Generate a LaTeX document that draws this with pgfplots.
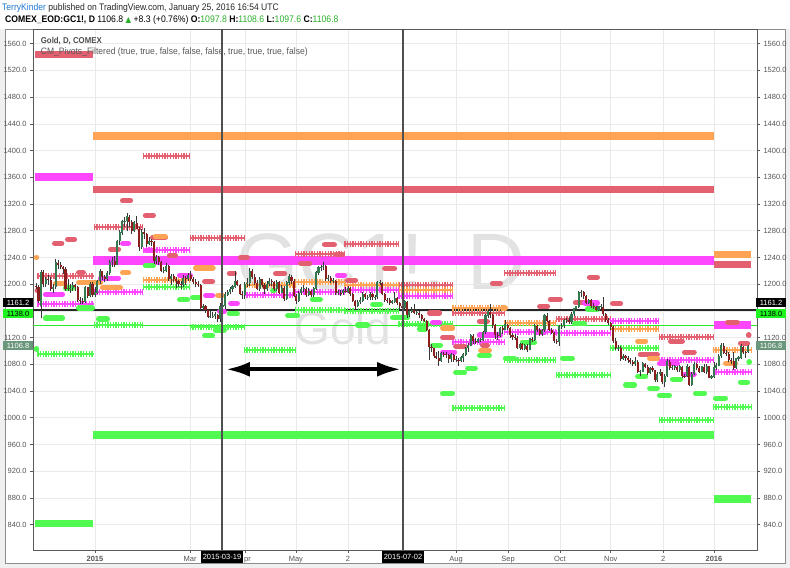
\documentclass[border=0pt]{standalone}
\usepackage{pgfplots}
\pgfplotsset{compat=1.18}
\usepackage{pgfplotstable}
\usepackage{graphicx}
\usepackage{fontspec}
\setmainfont{Liberation Sans}
\newfontfamily\dejavu{DejaVu Sans}
\usetikzlibrary{arrows.meta}

\definecolor{pvred}{RGB}{226,96,112}
\definecolor{pvorange}{RGB}{255,164,84}
\definecolor{pvmag}{RGB}{255,70,255}
\definecolor{pvgreen}{RGB}{80,250,80}
\definecolor{candleup}{RGB}{52,120,80}
\definecolor{candledn}{RGB}{140,30,30}
\definecolor{wick}{RGB}{55,55,55}
\definecolor{gridc}{RGB}{234,234,234}
\definecolor{axisc}{RGB}{90,90,90}
\definecolor{labelc}{RGB}{85,85,85}
\definecolor{textc}{RGB}{40,40,40}
\definecolor{tvblue}{RGB}{30,120,210}
\definecolor{tvgreen}{RGB}{40,175,40}
\definecolor{lastc}{RGB}{106,150,124}
\definecolor{linegreen}{RGB}{40,235,40}
\definecolor{boxgreen}{RGB}{30,245,30}
\definecolor{wmark}{RGB}{226,226,226}
\definecolor{vlinec}{RGB}{80,80,80}

% daily bars: trading-day index (0 = 2 Jan 2015), open, high, low, close
\pgfplotstableread{
x o h l c
-24 1197 1202 1192 1196
-23 1196 1198 1172 1175
-22 1168 1221 1150 1218
-21 1218 1221 1195 1200
-20 1200 1210 1196 1207
-19 1207 1213 1199 1206
-18 1206 1210 1190 1192
-17 1192 1200 1187 1195
-16 1195 1238 1192 1232
-15 1232 1236 1222 1229
-14 1229 1233 1222 1225
-13 1225 1227 1215 1222
-12 1222 1225 1190 1193
-11 1193 1208 1189 1194
-10 1194 1200 1187 1194
-9 1194 1203 1190 1198
-8 1198 1200 1190 1195
-7 1195 1197 1174 1177
-6 1177 1180 1170 1175
-5 1175 1179 1171 1174
-4 1174 1197 1172 1195
-3 1195 1196 1179 1182
-2 1182 1203 1180 1200
-1 1200 1203 1181 1184
0 1184 1195 1181 1187
1 1187 1206 1185 1204
2 1204 1222 1200 1219
3 1219 1220 1206 1211
4 1211 1213 1203 1208
5 1208 1219 1205 1216
6 1216 1236 1214 1233
7 1233 1241 1226 1234
8 1234 1242 1225 1229
9 1229 1266 1228 1264
10 1264 1281 1258 1277
11 1277 1296 1274 1294
12 1294 1300 1285 1294
13 1294 1307 1280 1301
14 1301 1304 1286 1293
15 1293 1296 1275 1280
16 1280 1294 1278 1292
17 1292 1302 1282 1283
18 1283 1286 1250 1255
19 1255 1282 1253 1278
20 1278 1284 1268 1275
21 1275 1277 1255 1260
22 1260 1270 1258 1264
23 1264 1268 1257 1263
24 1263 1264 1230 1234
25 1234 1243 1230 1240
26 1240 1242 1228 1233
27 1233 1235 1218 1220
28 1220 1226 1217 1220
29 1220 1232 1218 1227
30 1227 1229 1205 1208
31 1208 1215 1199 1212
32 1212 1215 1203 1207
33 1207 1210 1194 1204
34 1204 1206 1196 1200
35 1200 1205 1192 1198
36 1198 1214 1196 1209
37 1209 1212 1198 1207
38 1207 1217 1204 1213
39 1213 1219 1205 1208
40 1208 1210 1200 1203
41 1203 1207 1195 1200
42 1200 1204 1196 1198
43 1198 1200 1162 1164
44 1164 1170 1160 1167
45 1167 1169 1157 1161
46 1161 1162 1149 1151
47 1151 1160 1149 1152
48 1152 1158 1150 1152
49 1152 1158 1148 1154
50 1154 1156 1143 1148
51 1148 1172 1144 1166
52 1166 1176 1165 1168
53 1168 1188 1163 1184
54 1184 1191 1182 1188
55 1188 1195 1185 1192
56 1192 1198 1188 1196
57 1196 1220 1194 1204
58 1204 1206 1197 1199
59 1199 1200 1183 1185
60 1185 1190 1178 1183
61 1183 1203 1178 1200
62 1200 1209 1196 1201
63 1201 1224 1197 1219
64 1219 1223 1208 1210
65 1210 1215 1199 1202
66 1202 1206 1191 1193
67 1193 1211 1190 1207
68 1207 1208 1195 1198
69 1198 1201 1185 1192
70 1192 1205 1190 1200
71 1200 1209 1197 1204
72 1204 1207 1197 1203
73 1203 1205 1190 1193
74 1193 1206 1189 1203
75 1203 1205 1185 1187
76 1187 1198 1186 1194
77 1194 1197 1175 1178
78 1178 1205 1176 1202
79 1202 1215 1199 1211
80 1211 1213 1200 1204
81 1204 1207 1180 1182
82 1182 1185 1170 1175
83 1175 1190 1174 1186
84 1186 1196 1183 1192
85 1192 1198 1188 1193
86 1193 1195 1181 1184
87 1184 1194 1182 1189
88 1189 1191 1180 1183
89 1183 1196 1181 1193
90 1193 1220 1191 1217
91 1217 1227 1214 1225
92 1225 1229 1220 1225
93 1225 1233 1221 1227
94 1227 1229 1205 1207
95 1207 1213 1204 1209
96 1209 1212 1201 1205
97 1205 1209 1201 1205
98 1205 1206 1184 1186
99 1186 1191 1183 1187
100 1187 1191 1182 1186
101 1186 1193 1184 1190
102 1190 1196 1186 1188
103 1188 1197 1186 1194
104 1194 1196 1182 1185
105 1185 1187 1173 1175
106 1175 1177 1162 1168
107 1168 1176 1166 1173
108 1173 1180 1170 1175
109 1175 1188 1173 1185
110 1185 1187 1178 1180
111 1180 1183 1177 1180
112 1180 1188 1176 1185
113 1185 1187 1177 1180
114 1180 1184 1176 1180
115 1180 1205 1178 1202
116 1202 1206 1198 1202
117 1202 1203 1183 1185
118 1185 1187 1174 1177
119 1177 1180 1172 1176
120 1176 1179 1169 1172
121 1172 1176 1170 1174
122 1174 1188 1172 1179
123 1179 1181 1169 1172
124 1172 1174 1163 1168
125 1168 1170 1162 1164
126 1164 1176 1160 1174
127 1174 1175 1150 1154
128 1154 1163 1151 1159
129 1159 1166 1157 1161
130 1161 1170 1155 1157
131 1157 1163 1154 1157
132 1157 1160 1150 1154
133 1154 1156 1145 1148
134 1148 1149 1143 1145
135 1145 1147 1130 1132
136 1132 1133 1086 1106
137 1106 1111 1098 1104
138 1104 1105 1089 1092
139 1092 1098 1088 1090
140 1090 1100 1078 1085
141 1085 1099 1084 1096
142 1096 1099 1091 1095
143 1095 1098 1090 1094
144 1094 1096 1082 1088
145 1088 1097 1084 1094
146 1094 1096 1083 1086
147 1086 1092 1084 1087
148 1087 1090 1078 1085
149 1085 1092 1083 1090
150 1090 1097 1084 1094
151 1094 1106 1093 1104
152 1104 1112 1099 1108
153 1108 1126 1107 1123
154 1123 1126 1111 1115
155 1115 1119 1110 1113
156 1113 1120 1112 1117
157 1117 1119 1114 1117
158 1117 1130 1115 1128
159 1128 1155 1126 1153
160 1153 1163 1150 1159
161 1159 1170 1150 1154
162 1154 1155 1134 1139
163 1139 1140 1118 1124
164 1124 1128 1116 1123
165 1123 1136 1121 1134
166 1134 1137 1126 1132
167 1132 1146 1131 1139
168 1139 1141 1132 1134
169 1134 1136 1120 1124
170 1124 1127 1116 1121
171 1121 1125 1117 1120
172 1120 1122 1103 1105
173 1105 1112 1101 1110
174 1110 1112 1102 1103
175 1103 1110 1101 1108
176 1108 1110 1099 1102
177 1102 1120 1101 1118
178 1118 1121 1114 1117
179 1117 1141 1115 1137
180 1137 1139 1129 1132
181 1132 1134 1122 1125
182 1125 1133 1122 1131
183 1131 1156 1129 1153
184 1153 1157 1143 1145
185 1145 1146 1130 1132
186 1132 1134 1125 1127
187 1127 1129 1112 1115
188 1115 1118 1111 1113
189 1113 1139 1108 1137
190 1137 1142 1133 1137
191 1137 1148 1134 1146
192 1146 1149 1142 1146
193 1146 1151 1140 1143
194 1143 1158 1141 1155
195 1155 1165 1152 1163
196 1163 1168 1160 1166
197 1166 1190 1165 1187
198 1187 1191 1180 1188
199 1188 1190 1178 1182
200 1182 1184 1170 1172
201 1172 1178 1170 1176
202 1176 1178 1165 1167
203 1167 1172 1163 1166
204 1166 1168 1160 1162
205 1162 1168 1160 1166
206 1166 1170 1163 1166
207 1166 1181 1153 1155
208 1155 1157 1143 1147
209 1147 1150 1139 1142
210 1142 1143 1132 1136
211 1136 1137 1112 1115
212 1115 1119 1102 1104
213 1104 1109 1100 1104
214 1104 1107 1085 1088
215 1088 1096 1087 1092
216 1092 1094 1085 1090
217 1090 1093 1082 1086
218 1086 1090 1080 1084
219 1084 1087 1077 1081
220 1081 1091 1078 1084
221 1084 1087 1067 1068
222 1068 1072 1062 1069
223 1069 1083 1068 1081
224 1081 1082 1074 1076
225 1076 1079 1064 1067
226 1067 1076 1065 1074
227 1074 1078 1069 1071
228 1071 1072 1053 1056
229 1056 1068 1054 1065
230 1065 1073 1063 1068
231 1068 1069 1050 1053
232 1053 1065 1046 1062
233 1062 1088 1061 1084
234 1084 1086 1071 1075
235 1075 1079 1071 1075
236 1075 1079 1071 1076
237 1076 1078 1069 1071
238 1071 1079 1069 1076
239 1076 1077 1060 1063
240 1063 1066 1059 1062
241 1062 1080 1061 1076
242 1076 1078 1047 1049
243 1049 1068 1048 1065
244 1065 1083 1064 1080
245 1080 1082 1071 1075
246 1075 1078 1067 1069
247 1069 1077 1068 1076
248 1076 1080 1067 1068
249 1068 1080 1066 1077
250 1077 1078 1059 1060
251 1060 1064 1058 1061
252 1061 1083 1060 1075
253 1075 1082 1072 1078
254 1078 1095 1077 1092
255 1092 1112 1090 1108
256 1108 1112 1096 1097
257 1097 1102 1092 1096
258 1096 1098 1083 1086
259 1086 1090 1080 1085
260 1085 1098 1072 1074
261 1074 1090 1073 1088
262 1088 1093 1085 1090
263 1090 1111 1088 1106
264 1106 1108 1095 1098
265 1098 1100 1090 1097
266 1097.8 1108.6 1097.6 1106.8
}\gold

% yearly pivot levels: from bar a to bar b at price p
\pgfplotstableread{
a b p
-24.5 -0.8 1543.5
-0.8 252 1342
252 267.2 1229.5
}\yrRed
\pgfplotstableread{
a b p
-0.8 252 1422
252 267.2 1244.5
}\yrOrange
\pgfplotstableread{
a b p
-24.5 -0.8 1360.5
252 267.2 1138.5
}\yrMag
\pgfplotstableread{
a b p
-0.8 252 1236
}\yrMagWide
\pgfplotstableread{
a b p
-24.5 -0.8 841.5
-0.8 252 974
252 267.2 878
}\yrGreen

% monthly pivot levels
\pgfplotstableread{
a b p
-23.5 -0.5 1211.5
-0.5 19.5 1285
19.5 38.5 1392.5
38.5 60.5 1268.5
81.5 101.5 1244.5
101.5 123.5 1259.5
123.5 145.5 1198
145.5 166.5 1157.5
166.5 187.5 1216
187.5 209.5 1148.5
229.5 251.5 1121
}\moRed
\pgfplotstableread{
a b p
19.5 38.5 1205.5
60.5 81.5 1198.5
81.5 101.5 1202.5
101.5 123.5 1198
123.5 145.5 1190.5
145.5 166.5 1165
166.5 187.5 1142
209.5 229.5 1133.5
251.5 267.5 1101
}\moOrange
\pgfplotstableread{
a b p
-23.5 -0.5 1171
-0.5 19.5 1187.5
19.5 38.5 1250.5
60.5 81.5 1183.5
81.5 101.5 1187.5
101.5 123.5 1190.5
123.5 145.5 1181.5
145.5 166.5 1113
166.5 187.5 1128
187.5 209.5 1127
209.5 229.5 1145.5
229.5 251.5 1086
251.5 267.5 1068
}\moMag
\pgfplotstableread{
a b p
-23.5 -0.5 1096
-0.5 19.5 1138.5
19.5 38.5 1195
38.5 60.5 1135.5
60.5 81.5 1101
81.5 101.5 1162
101.5 123.5 1160.5
123.5 145.5 1141
145.5 166.5 1014
166.5 187.5 1086
187.5 209.5 1063.5
209.5 229.5 1104
229.5 251.5 996.5
251.5 267.5 1016.5
}\moGreen

% weekly pivot levels
\pgfplotstableread{
a b p
-16.4 -13.6 1261
-11.1 -8.4 1267
-6.6 -4.8 1217.5
-23.5 -23.3 1190.5
11.3 14.4 1325
20.6 23.7 1302.5
6.4 9.5 1252
23.5 28.6 1270
30.4 32.7 1243
59.3 62 1240
54.8 56.7 1216
44.7 47.8 1204
93.5 97.4 1259
98.1 100.7 1244.5
83.8 87.3 1231
118 121.9 1223.5
73.6 77.1 1216
102.9 106 1205.5
136.3 140.2 1156.5
161.9 165 1201
156.6 159.7 1144
141.6 145.5 1120
146.9 150.4 1107
157.9 159.7 1108.5
201.4 204.5 1210
185.5 189.4 1177
181.1 184.2 1166.5
195.7 199.2 1172.5
210.8 213.9 1171
234.4 239.1 1114.5
240.1 243.9 1098
222.1 228.9 1095
262.9 265.6 1111.5
257.6 261.5 1142.5
266.1 266.2 1123.5
}\wkRed
\pgfplotstableread{
a b p
-23.9 -23.8 1240
11.3 13.6 1217.5
-16 -12.9 1201
-6.6 2.2 1202.5
3.1 10.3 1195
50 51.8 1183
141.6 145.5 1134
157.1 160.5 1101
221 224.1 1114.5
256.8 260.7 1081.5
24.6 28.6 1271
41 48 1224
225.9 228.9 1089
166 167 1164
}\wkOrange
\pgfplotstableread{
a b p
11.3 13.6 1261
20.6 23.7 1250.5
2.3 9.5 1208.5
-20.1 -13.3 1184.5
34.5 38.8 1213
45.1 47.8 1183
55.3 57.9 1171
50.8 52.6 1159
98.8 101.5 1213
137.5 140.2 1142.5
141.6 146.3 1098
156.6 165 1123.5
199.4 204.5 1172
179.4 182.9 1128
240.1 243.9 1065
229.9 237.1 1081.5
}\wkMag
\pgfplotstableread{
a b p
-20.1 -13.3 1149
-11.9 -9.2 1194
-6.6 -1.1 1164
1.5 5 1147.5
20.6 23.7 1228
34.5 37.6 1177
39.8 42.5 1180
54.8 57.9 1156
49.1 52.6 1131
44.7 47.8 1123
72.4 73 1190.5
88.6 91.7 1177
113.1 116.2 1169.5
78.5 82.4 1153
107 110.9 1138.5
121.2 127.2 1150
132.2 134.5 1132.5
137.5 140.6 1108.5
156.6 160.5 1093.5
167.2 170.7 1089
146.9 150.4 1068
151.8 154.8 1074
141.6 145.5 1036.5
221 224.1 1062
225.9 228.9 1044
229.9 233.8 1033.5
244.6 248.1 1036.5
252.7 256.6 1029
262.9 265.6 1053
235.2 238.3 1057.5
266.3 266.4 1083.5
-23.9 -23.8 1103
174.1 178.9 1113
190.4 194.3 1089
200.6 204.5 1162.5
195.3 199.2 1141
216.1 219.6 1049
}\wkGreen

\pgfplotsset{
  nomark/.style={only marks, mark=*, mark size=0pt, mark options={draw=none, fill=none}, forget plot},
  seg/.style={nomark,
    error bars/x dir=plus, error bars/x explicit, error bars/error mark=none,
    error bars/error bar style={#1}},
  bar/.style={nomark,
    error bars/y dir=plus, error bars/y explicit, error bars/error mark=none,
    error bars/error bar style={#1}},
  yr/.style={seg={line width=7.5bp, #1}},
  mocross/.style={seg={line width=6bp, dash pattern=on 1.3bp off 1.4bp, #1}},
  moline/.style={seg={line width=2bp, #1}},
  wk/.style={seg={line width=5.5bp, line cap=round, #1}},
}

\begin{document}
\begin{tikzpicture}[x=1bp, y=1bp]
% page and chart frame
\fill[white] (0,0) rectangle (790,568);
\fill[black!6] (0,0) rectangle (790,5);
\fill[black!6] (0,0) rectangle (5,539);
\fill[black!6] (785,0) rectangle (790,539);
\draw[black!45, line width=0.8bp] (5,5) rectangle (785,539);

% symbol watermark
\node[anchor=base, inner sep=0, text=wmark, font=\fontsize{80bp}{80bp}\selectfont] at (381,278) {GC1!, D};
\node[anchor=base, inner sep=0, text=wmark, font=\fontsize{46bp}{46bp}\selectfont] at (343,223) {Gold};

\begin{axis}[
  at={(33bp,18bp)}, anchor=south west,
  scale only axis, width=724bp, height=521bp,
  xmin=-25.24, xmax=269.54, ymin=802, ymax=1582,
  axis line style={axisc, line width=0.8bp},
  xtick={0,38.7,61.1,81.8,103,125.4,147,168.2,189.3,210,231.3,252},
  xticklabels={\textbf{2015},Mar,{\phantom{A}pr},May,2,{},Aug,Sep,Oct,Nov,2,\textbf{2016}},
  ytick={840,880,...,1560},
  yticklabels={840.0,880.0,920.0,960.0,1000.0,1040.0,1080.0,1120.0,{},1200.0,1240.0,1280.0,1320.0,1360.0,1400.0,1440.0,1480.0,1520.0,1560.0},
  tick label style={font=\fontsize{7.5bp}{8bp}\selectfont, text=labelc},
  xtick pos=left, ytick pos=left,
  tick align=outside, major tick length=3bp,
  tick style={axisc, line width=0.6bp},
  grid=major, major grid style={gridc, line width=0.6bp},
]
% last price and reference levels
\addplot[forget plot, line width=1.6bp, linegreen] coordinates {(-26,1138) (270,1138)};
\addplot[forget plot, line width=1.4bp, black!85] coordinates {(-26,1161.2) (270,1161.2)};

% yearly levels
\addplot[yr=pvred] table[x=a, y=p, x error expr=\thisrow{b}-\thisrow{a}] {\yrRed};
\addplot[yr=pvorange] table[x=a, y=p, x error expr=\thisrow{b}-\thisrow{a}] {\yrOrange};
\addplot[yr=pvmag] table[x=a, y=p, x error expr=\thisrow{b}-\thisrow{a}] {\yrMag};
\addplot[seg={line width=9bp, pvmag}] table[x=a, y=p, x error expr=\thisrow{b}-\thisrow{a}] {\yrMagWide};
\addplot[yr=pvgreen] table[x=a, y=p, x error expr=\thisrow{b}-\thisrow{a}] {\yrGreen};

% monthly levels (cross-hatched)
\addplot[mocross=pvred] table[x=a, y=p, x error expr=\thisrow{b}-\thisrow{a}] {\moRed};
\addplot[moline=pvred] table[x=a, y=p, x error expr=\thisrow{b}-\thisrow{a}] {\moRed};
\addplot[mocross=pvorange] table[x=a, y=p, x error expr=\thisrow{b}-\thisrow{a}] {\moOrange};
\addplot[moline=pvorange] table[x=a, y=p, x error expr=\thisrow{b}-\thisrow{a}] {\moOrange};
\addplot[mocross=pvmag] table[x=a, y=p, x error expr=\thisrow{b}-\thisrow{a}] {\moMag};
\addplot[moline=pvmag] table[x=a, y=p, x error expr=\thisrow{b}-\thisrow{a}] {\moMag};
\addplot[mocross=pvgreen] table[x=a, y=p, x error expr=\thisrow{b}-\thisrow{a}] {\moGreen};
\addplot[moline=pvgreen] table[x=a, y=p, x error expr=\thisrow{b}-\thisrow{a}] {\moGreen};

% weekly levels (rounded)
\addplot[wk=pvred] table[x=a, y=p, x error expr=\thisrow{b}-\thisrow{a}] {\wkRed};
\addplot[wk=pvorange] table[x=a, y=p, x error expr=\thisrow{b}-\thisrow{a}] {\wkOrange};
\addplot[wk=pvmag] table[x=a, y=p, x error expr=\thisrow{b}-\thisrow{a}] {\wkMag};
\addplot[wk=pvgreen] table[x=a, y=p, x error expr=\thisrow{b}-\thisrow{a}] {\wkGreen};

% candles: wicks, then bodies
\addplot[bar={line width=0.8bp, wick}] table[x=x, y=l, y error expr=\thisrow{h}-\thisrow{l}] {\gold};
\addplot[bar={line width=2.1bp, candleup}] table[x=x,
   y expr={\thisrow{c}<\thisrow{o} ? -500 : \thisrow{o}},
   y error expr={abs(\thisrow{c}-\thisrow{o})+0.8}] {\gold};
\addplot[bar={line width=2.1bp, candledn}] table[x=x,
   y expr={\thisrow{c}<\thisrow{o} ? \thisrow{c} : -500},
   y error expr={abs(\thisrow{c}-\thisrow{o})}] {\gold};

% marker lines and range arrow
\draw[vlinec, line width=1.2bp] (axis cs:51.7,802) -- (axis cs:51.7,1582);
\draw[vlinec, line width=1.2bp] (axis cs:125.4,802) -- (axis cs:125.4,1582);
\draw[black, line width=4bp, {Latex[length=24bp,width=15bp]}-{Latex[length=24bp,width=15bp]}]
  (axis cs:53.3,1072.5) -- (axis cs:124.6,1072.5);
\end{axis}

% right-hand price scale
\begin{axis}[
  at={(33bp,18bp)}, anchor=south west,
  scale only axis, width=724bp, height=521bp,
  xmin=-25.24, xmax=269.54, ymin=802, ymax=1582,
  axis x line=none, axis y line*=right,
  axis line style={axisc, line width=0.8bp},
  ytick={840,880,...,1560}, yticklabel pos=right,
  yticklabels={840.0,880.0,920.0,960.0,1000.0,1040.0,1080.0,1120.0,{},1200.0,1240.0,1280.0,1320.0,1360.0,1400.0,1440.0,1480.0,1520.0,1560.0},
  tick label style={font=\fontsize{7.5bp}{8bp}\selectfont, text=labelc},
  tick align=outside, major tick length=3bp,
  tick style={axisc, line width=0.6bp},
]
\addplot[draw=none, forget plot] coordinates {(0,1000)};
\end{axis}

% header
\node[anchor=base west, inner sep=0, font=\fontsize{9.5bp}{11bp}\selectfont] at (2,557.3)
  {\scalebox{0.9}[1]{\textcolor{tvblue}{TerryKinder}\ \textcolor{textc}{published on TradingView.com, January 25, 2016 16:54 UTC}}};
\node[anchor=base west, inner sep=0, font=\fontsize{9.5bp}{11bp}\selectfont, text=black] at (5,545.3)
  {\scalebox{0.91}[1]{\textbf{COMEX\_EOD:GC1!, D} 1106.8 {\dejavu\fontsize{8bp}{9bp}\selectfont\textcolor{tvgreen}{▲}} +8.3 (+0.76\%) \textbf{O:}\textcolor{tvgreen}{1097.8} \textbf{H:}\textcolor{tvgreen}{1108.6} \textbf{L:}\textcolor{tvgreen}{1097.6} \textbf{C:}\textcolor{tvgreen}{1106.8}}};

% study legend
\node[anchor=base west, inner sep=0, font=\fontsize{8.5bp}{10bp}\selectfont, text=black!70] at (40.7,524.3)
  {\scalebox{0.92}[1]{\textbf{Gold, D, COMEX}}};
\node[anchor=base west, inner sep=0, font=\fontsize{9.3bp}{10bp}\selectfont, text=black!65] at (40.7,513.7)
  {\scalebox{0.92}[1]{CM\_Pivots\_Filtered (true, true, false, false, false, true, true, true, false)}};

% price scale badges
\foreach \xc in {18,771} {
  \node[fill=black, text=white, inner sep=0, minimum width=30bp, minimum height=9bp, font=\fontsize{7.5bp}{8bp}\selectfont] at (\xc,265) {1161.2};
  \node[fill=boxgreen, text=black, inner sep=0, minimum width=30bp, minimum height=9bp, font=\fontsize{7.5bp}{8bp}\selectfont] at (\xc,254.5) {1138.0};
  \node[fill=lastc, text=white, inner sep=0, minimum width=30bp, minimum height=9bp, font=\fontsize{7.5bp}{8bp}\selectfont] at (\xc,222) {1106.8};
}

% date badges on the time axis
\node[fill=black, text=white, inner sep=0, minimum width=42bp, minimum height=12bp, font=\fontsize{7.5bp}{8bp}\selectfont] at (222,11) {2015-03-19};
\node[fill=black, text=white, inner sep=0, minimum width=42bp, minimum height=12bp, font=\fontsize{7.5bp}{8bp}\selectfont] at (403,11) {2015-07-02};
\end{tikzpicture}
\end{document}
